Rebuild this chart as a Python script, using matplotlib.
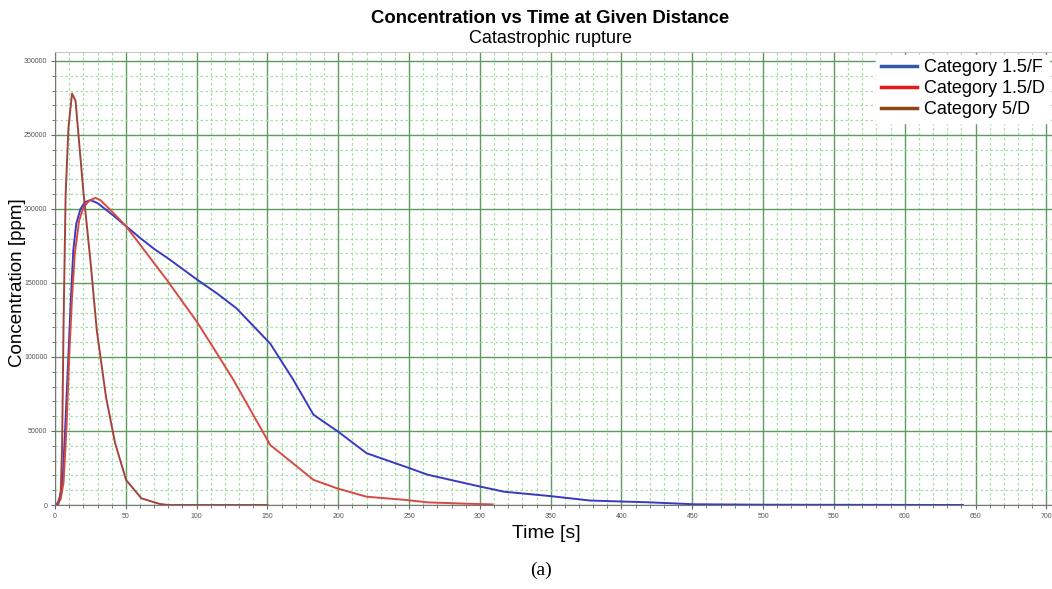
import numpy as np
import matplotlib.pyplot as plt
from matplotlib.lines import Line2D
from matplotlib.ticker import MultipleLocator

plt.rcParams['font.family'] = ['Liberation Sans', 'DejaVu Sans']

# concentration [ppm] vs time [s] for each weather category
t_15F = [0, 2, 3.5, 5.4, 7.1, 9.4, 11, 12.9, 15, 18, 21, 25, 30, 40, 50, 60, 70, 80,
         100, 115, 128, 135, 152, 168, 182.5, 200, 220, 250, 263, 300, 317, 350,
         378, 420, 451, 500, 641]
c_15F = [0, 1500, 5600, 16900, 50000, 100000, 135000, 172000, 190000, 200000, 204500,
         206000, 204000, 196500, 188500, 180500, 173000, 166500, 152500, 142500,
         133000, 126000, 109000, 85000, 61000, 49500, 35000, 25000, 20500, 12500,
         9000, 6000, 3000, 1800, 500, 200, 0]

t_15D = [0, 2, 4, 6, 8, 10, 12, 14, 17, 20, 24, 28.5, 32, 40, 50, 60, 79, 100, 110,
         126, 152, 182.5, 199, 220, 248, 263, 290, 309]
c_15D = [0, 800, 4000, 15000, 50000, 100000, 140000, 170000, 192000, 201000, 205500,
         207500, 206000, 198500, 188500, 176000, 152000, 124000, 109000, 84500,
         40500, 17000, 11300, 5600, 3400, 1800, 900, 400]

t_5D = [0, 2.3, 4, 5, 6, 7.5, 9.5, 12, 14.5, 20, 25, 29.5, 36, 42.4, 50.2, 61, 74,
        80, 150]
c_5D = [0, 500, 8000, 40000, 120000, 210000, 255000, 278000, 273000, 212000, 165000,
        118000, 73000, 41900, 16900, 4500, 700, 0, 0]

labels = ['Category 1.5/F', 'Category 1.5/D', 'Category 5/D']
line_colors = ['#3a3ac0', '#d64a44', '#a2443e']
legend_colors = ['#2f5aa8', '#e8191a', '#8b4513']

fig = plt.figure(figsize=(10.52, 5.89), dpi=100)
ax = fig.add_axes([0.0523, 0.1426, 0.9477, 0.769])

ax.plot(t_15F, c_15F, color=line_colors[0], lw=1.4)
ax.plot(t_15D, c_15D, color=line_colors[1], lw=1.4)
ax.plot(t_5D, c_5D, color=line_colors[2], lw=1.4)

ax.set_xlim(0, 704)
ax.set_ylim(0, 306000)
ax.xaxis.set_major_locator(MultipleLocator(50))
ax.xaxis.set_minor_locator(MultipleLocator(10))
ax.yaxis.set_major_locator(MultipleLocator(50000))
ax.yaxis.set_minor_locator(MultipleLocator(10000))

ax.grid(which='major', color='#5c9c5c', lw=1.0)
ax.grid(which='minor', color='#a8dca8', lw=0.9, ls=(0, (2, 2)))
ax.set_axisbelow(True)

ax.tick_params(which='both', labelsize=5, labelcolor='#555555', color='#666666', pad=2.5)
ax.tick_params(which='major', length=3)
ax.tick_params(which='minor', length=2)
for s in ['left', 'bottom']:
    ax.spines[s].set_color('#777777')
ax.spines['top'].set_color('#bbbbbb')
ax.spines['top'].set_linewidth(0.6)
ax.spines['right'].set_visible(False)

ax.set_xlabel('Time [s]', fontsize=14)
ax.set_ylabel('Concentration [ppm]', fontsize=13.5)
ax.xaxis.set_label_coords(0.493, -0.045)
ax.yaxis.set_label_coords(-0.029, 0.49)

handles = [Line2D([], [], color=c, lw=2.5) for c in legend_colors]
leg = ax.legend(handles, labels, loc='upper right', fontsize=13, frameon=True,
                fancybox=False, edgecolor='white', framealpha=1,
                handlelength=2.0, handletextpad=0.4, borderpad=0.25,
                labelspacing=0.22, borderaxespad=0.15)

fig.text(0.523, 0.968, 'Concentration vs Time at Given Distance', ha='center',
         va='center', fontsize=13.3, fontweight='bold')
fig.text(0.523, 0.935, 'Catastrophic rupture', ha='center', va='center', fontsize=13)
fig.text(0.514, 0.031, '(a)', ha='center', va='center', fontsize=14,
         family='Liberation Serif')

fig.savefig('out.png', dpi=100)
